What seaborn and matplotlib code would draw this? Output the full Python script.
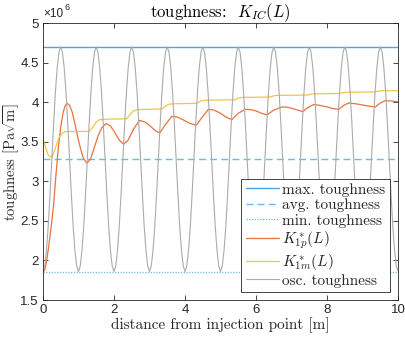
import numpy as np
import pandas as pd
import matplotlib
matplotlib.use("Agg")
import matplotlib.pyplot as plt
from matplotlib.ticker import FuncFormatter
import seaborn as sns

# ======================================================
#   data (toughness in units of 1e6 Pa*sqrt(m))
# ======================================================
K_MAX = 4.70
K_AVG = 3.28
K_MIN = 1.86

# K*_1p(L)
k1p_x = [0, 0.05, 0.1, 0.16, 0.22, 0.3, 0.37, 0.44, 0.5, 0.56, 0.62, 0.68,
         0.75, 0.82, 0.9, 0.98, 1.06, 1.14, 1.24, 1.34, 1.44, 1.55, 1.66,
         1.78, 1.9, 2.02, 2.15, 2.27, 2.4, 2.55, 2.72, 2.87, 3.02, 3.16,
         3.29, 3.45, 3.63, 3.8, 3.98, 4.15, 4.32, 4.5, 4.66, 4.82, 5.0,
         5.16, 5.32, 5.5, 5.7, 5.85, 6.0, 6.15, 6.31, 6.5, 6.73, 6.9, 7.1,
         7.32, 7.45, 7.62, 7.8, 8.0, 8.15, 8.33, 8.47, 8.61, 8.8, 9.0, 9.18,
         9.36, 9.5, 9.64, 9.8, 10.0]
k1p_y = [1.86, 1.88, 1.98, 2.17, 2.38, 2.70, 3.10, 3.45, 3.68, 3.85, 3.95,
         3.985, 3.96, 3.88, 3.73, 3.56, 3.41, 3.29, 3.23, 3.28, 3.42, 3.57,
         3.68, 3.73, 3.70, 3.62, 3.52, 3.47, 3.52, 3.66, 3.77, 3.75, 3.70,
         3.64, 3.61, 3.72, 3.82, 3.81, 3.77, 3.73, 3.71, 3.82, 3.91, 3.90,
         3.86, 3.81, 3.78, 3.86, 3.91, 3.905, 3.89, 3.86, 3.84, 3.90, 3.94,
         3.935, 3.91, 3.88, 3.93, 3.97, 3.96, 3.94, 3.92, 3.91, 3.96, 3.99,
         3.98, 3.965, 3.95, 3.94, 3.99, 4.02, 4.015, 4.005]

# K*_1m(L)
k1m_x = [0, 0.08, 0.15, 0.25, 0.35, 0.45, 0.55, 0.65, 1.0, 1.29, 1.4, 1.5,
         1.6, 1.8, 2.35, 2.45, 2.55, 2.65, 3.0, 3.35, 3.45, 3.55, 3.7, 4.34,
         4.42, 4.55, 5.4, 5.5, 5.6, 6.36, 6.45, 6.55, 7.44, 7.52, 7.62, 8.35,
         8.45, 8.55, 9.35, 9.45, 9.55, 10.0]
k1m_y = [3.54, 3.42, 3.33, 3.30, 3.42, 3.55, 3.61, 3.63, 3.63, 3.63, 3.68,
         3.75, 3.78, 3.785, 3.79, 3.84, 3.89, 3.905, 3.91, 3.915, 3.95,
         3.975, 3.98, 3.985, 4.01, 4.025, 4.03, 4.05, 4.06, 4.065, 4.075,
         4.085, 4.09, 4.10, 4.105, 4.11, 4.12, 4.125, 4.13, 4.14, 4.145,
         4.145]

# oscillating toughness, sampled every 0.05 m
osc_x = [i * 0.05 for i in range(201)]
osc_y = [
    1.86, 1.93, 2.13, 2.44, 2.84, 3.28, 3.72, 4.12, 4.43, 4.63,
    4.70, 4.63, 4.43, 4.12, 3.72, 3.28, 2.84, 2.44, 2.13, 1.93,
    1.86, 1.93, 2.13, 2.44, 2.84, 3.28, 3.72, 4.12, 4.43, 4.63,
    4.70, 4.63, 4.43, 4.12, 3.72, 3.28, 2.84, 2.44, 2.13, 1.93,
    1.86, 1.93, 2.13, 2.44, 2.84, 3.28, 3.72, 4.12, 4.43, 4.63,
    4.70, 4.63, 4.43, 4.12, 3.72, 3.28, 2.84, 2.44, 2.13, 1.93,
    1.86, 1.93, 2.13, 2.44, 2.84, 3.28, 3.72, 4.12, 4.43, 4.63,
    4.70, 4.63, 4.43, 4.12, 3.72, 3.28, 2.84, 2.44, 2.13, 1.93,
    1.86, 1.93, 2.13, 2.44, 2.84, 3.28, 3.72, 4.12, 4.43, 4.63,
    4.70, 4.63, 4.43, 4.12, 3.72, 3.28, 2.84, 2.44, 2.13, 1.93,
    1.86, 1.93, 2.13, 2.44, 2.84, 3.28, 3.72, 4.12, 4.43, 4.63,
    4.70, 4.63, 4.43, 4.12, 3.72, 3.28, 2.84, 2.44, 2.13, 1.93,
    1.86, 1.93, 2.13, 2.44, 2.84, 3.28, 3.72, 4.12, 4.43, 4.63,
    4.70, 4.63, 4.43, 4.12, 3.72, 3.28, 2.84, 2.44, 2.13, 1.93,
    1.86, 1.93, 2.13, 2.44, 2.84, 3.28, 3.72, 4.12, 4.43, 4.63,
    4.70, 4.63, 4.43, 4.12, 3.72, 3.28, 2.84, 2.44, 2.13, 1.93,
    1.86, 1.93, 2.13, 2.44, 2.84, 3.28, 3.72, 4.12, 4.43, 4.63,
    4.70, 4.63, 4.43, 4.12, 3.72, 3.28, 2.84, 2.44, 2.13, 1.93,
    1.86, 1.93, 2.13, 2.44, 2.84, 3.28, 3.72, 4.12, 4.43, 4.63,
    4.70, 4.63, 4.43, 4.12, 3.72, 3.28, 2.84, 2.44, 2.13, 1.93,
    1.86,
]

x_ticks = [0, 2, 4, 6, 8, 10]
y_ticks = [1.5, 2, 2.5, 3, 3.5, 4, 4.5, 5]

# ======================================================
#   style
# ======================================================
sns.set_theme(style="ticks")
plt.rcParams["font.family"] = ["Liberation Sans", "DejaVu Sans"]
plt.rcParams["mathtext.fontset"] = "cm"
SERIF = ["cmr10", "DejaVu Serif"]

AX_COLOR = "#262626"
C_BLUE = "#45A8EE"
C_RED = "#E5733F"
C_YEL = "#F5C446"
C_GREY = "#ABABAB"

fig = plt.figure(figsize=(4.05, 3.39), dpi=100)
ax = fig.add_axes([0.106, 0.115, 0.877, 0.817])

ax.axhline(K_MAX, color=C_BLUE, lw=1.0, ls="-", label="max. toughness")
ax.axhline(K_AVG, color=C_BLUE, lw=1.0, ls=(0, (5, 3)), alpha=0.8,
           label="avg. toughness")
ax.axhline(K_MIN, color=C_BLUE, lw=0.9, ls=(0, (1, 1.2)), alpha=0.8,
           label="min. toughness")

sns.lineplot(x=k1p_x, y=k1p_y, ax=ax, color=C_RED, lw=0.9, sort=False,
             label=r"$K^*_{1p}(L)$")
sns.lineplot(x=k1m_x, y=k1m_y, ax=ax, color=C_YEL, lw=0.9, sort=False,
             label=r"$K^*_{1m}(L)$")
sns.lineplot(x=osc_x, y=osc_y, ax=ax, color=C_GREY, lw=0.8, sort=False,
             label="osc. toughness")

ax.set_xlim(0, 10)
ax.set_ylim(1.5, 5)
ax.set_xticks(x_ticks)
ax.set_yticks(y_ticks)
ax.yaxis.set_major_formatter(FuncFormatter(lambda v, p: f"{v:g}"))

ax.tick_params(direction="in", length=3.5, width=0.6, colors=AX_COLOR,
               labelsize=9.5, top=True, right=True, pad=3)
for s in ax.spines.values():
    s.set_visible(True)
    s.set_color(AX_COLOR)
    s.set_linewidth(0.6)

ax.set_xlabel("distance from injection point [m]", family=SERIF,
              fontsize=11, color=AX_COLOR, labelpad=1)
ax.set_ylabel(r"toughness [Pa$\sqrt{\mathrm{m}}$]", family=SERIF,
              fontsize=10.5, color=AX_COLOR)
ax.yaxis.set_label_coords(-0.06, 0.5)
ax.set_title(r"toughness:  $K_{IC}(L)$", family=SERIF, fontsize=12,
             color="black", pad=4)

# exponent label like MATLAB
ax.text(0.0, 1.012, "\u00d710", transform=ax.transAxes, fontsize=8.5,
        color=AX_COLOR, ha="left", va="bottom")
ax.text(0.062, 1.04, "6", transform=ax.transAxes, fontsize=6.5,
        color=AX_COLOR, ha="left", va="bottom")

leg = ax.legend(loc="lower right", bbox_to_anchor=(0.977, 0.028),
                borderaxespad=0, prop={"family": SERIF, "size": 11},
                handlelength=2.2, handletextpad=0.2, labelspacing=0.1,
                borderpad=0.3, fancybox=False, framealpha=1,
                edgecolor=AX_COLOR)
leg.get_frame().set_linewidth(0.6)

fig.savefig("out.png", dpi=100)
